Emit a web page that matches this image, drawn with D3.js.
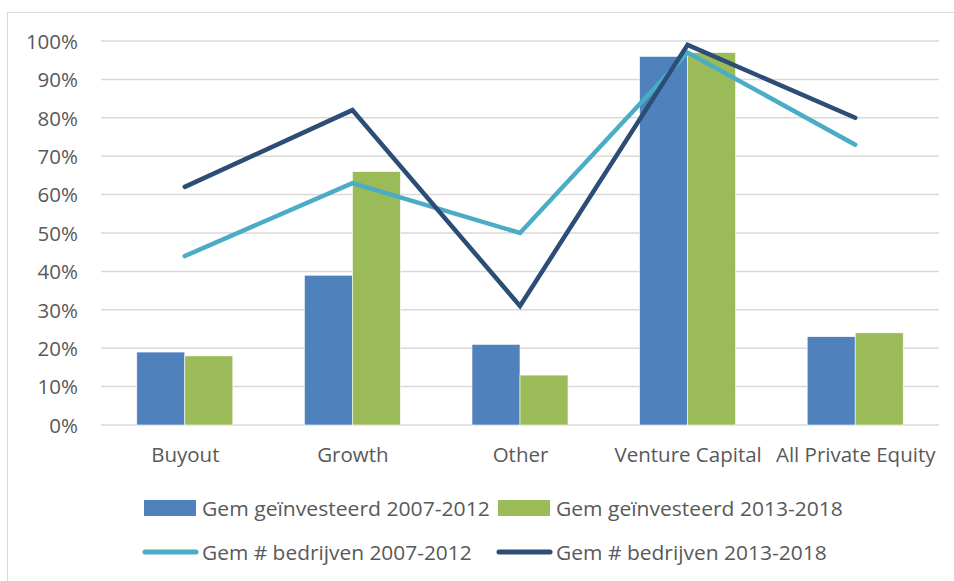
<!DOCTYPE html>
<html><head><meta charset="utf-8">
<script src="https://cdn.jsdelivr.net/npm/d3@7"></script>
<style>body{margin:0;background:#fff;} svg{display:block;} text{font-family:"Open Sans", sans-serif;}</style>
</head><body>
<svg id="c" width="954" height="581"></svg>
<script>
const categories = ["Buyout","Growth","Other","Venture Capital","All Private Equity"];
const invested0712 = [19,39,21,96,23];
const invested1318 = [18,66,13,97,24];
const companies0712 = [44,63,50,97,73];
const companies1318 = [62,82,31,99,80];
const yTicks = [0,10,20,30,40,50,60,70,80,90,100];
const barSeries = [
  {name:"Gem geïnvesteerd 2007-2012", values: invested0712, color:"#4f81bd"},
  {name:"Gem geïnvesteerd 2013-2018", values: invested1318, color:"#9bbb59"}
];
const lineSeries = [
  {name:"Gem # bedrijven 2007-2012", values: companies0712, color:"#4bacc6"},
  {name:"Gem # bedrijven 2013-2018", values: companies1318, color:"#2c4d75"}
];

(function(){
const svg = d3.select("#c");
const textColor = "#595959";
const fontSize = "20.5px";
const pLeft = 101, pRight = 939, pTop = 41, pBottom = 425;

svg.append("rect").attr("x",7.5).attr("y",12.5).attr("width",960).attr("height",600)
  .attr("fill","none").attr("stroke","#d9d9d9").attr("stroke-width",1);

const x = d3.scaleBand().domain(categories).range([pLeft,pRight]).paddingInner(0.427).paddingOuter(0.2135);
const y = d3.scaleLinear().domain([0,100]).range([pBottom,pTop]);
const xs = d3.scaleBand().domain(d3.range(barSeries.length)).range([0,x.bandwidth()]);

svg.append("g").selectAll("line").data(yTicks).join("line")
  .attr("x1",pLeft).attr("x2",pRight).attr("y1",d=>y(d)).attr("y2",d=>y(d))
  .attr("stroke","#d9d9d9").attr("stroke-width",1.5);

const yAxis = svg.append("g").attr("transform",`translate(${pLeft},0)`)
  .call(d3.axisLeft(y).tickValues(yTicks).tickFormat(d=>d+"%").tickSize(0).tickPadding(23));
yAxis.select(".domain").remove();
yAxis.selectAll("text").attr("fill",textColor).attr("dy","0.36em")
  .style("font-size",fontSize).style("font-family","'Open Sans', sans-serif");

barSeries.forEach((s,i)=>{
  svg.append("g").selectAll("rect").data(s.values).join("rect")
    .attr("x",(d,j)=>x(categories[j])+xs(i)).attr("width",xs.bandwidth())
    .attr("y",d=>y(d)).attr("height",d=>y(0)-y(d))
    .attr("fill",s.color).attr("stroke","#ffffff").attr("stroke-width",0.6);
});

const xAxis = svg.append("g").attr("transform",`translate(0,${pBottom})`)
  .call(d3.axisBottom(d3.scalePoint().domain(categories).range([x(categories[0])+x.bandwidth()/2, x(categories[4])+x.bandwidth()/2])).tickSize(0).tickPadding(0));
xAxis.select(".domain").remove();
xAxis.selectAll("text").attr("fill",textColor).attr("y",37).attr("dy",null)
  .style("font-size",fontSize).style("font-family","'Open Sans', sans-serif");

const cx = c=>x(c)+x.bandwidth()/2;
lineSeries.forEach(s=>{
  const line = d3.line().x((d,j)=>cx(categories[j])).y(d=>y(d));
  svg.append("path").datum(s.values).attr("d",line).attr("fill","none")
    .attr("stroke",s.color).attr("stroke-width",4.5).attr("stroke-linecap","round").attr("stroke-linejoin","miter");
});

const legendPos = [[144,508],[498,508],[144,552],[498,552]];
const legendTextWidth = [288,287,270,271];
const legendItems = barSeries.map(s=>({...s,type:"bar"})).concat(lineSeries.map(s=>({...s,type:"line"})));
legendItems.forEach((s,i)=>{
  const [lx,ly] = legendPos[i];
  const g = svg.append("g");
  if (s.type==="bar") g.append("rect").attr("x",lx).attr("y",ly-8).attr("width",52).attr("height",16).attr("fill",s.color);
  else g.append("line").attr("x1",lx+1).attr("x2",lx+52).attr("y1",ly).attr("y2",ly).attr("stroke",s.color).attr("stroke-width",5).attr("stroke-linecap","round");
  const tg = g.append("g");
  const t = tg.append("text").attr("x",0).attr("y",0).attr("fill",textColor)
    .style("font-size",fontSize).text(s.name);
  const natural = t.node().getComputedTextLength();
  tg.attr("transform",`translate(${lx+58},${ly+7.5}) scale(${legendTextWidth[i]/natural},1)`);
});
})();
</script>
</body></html>
